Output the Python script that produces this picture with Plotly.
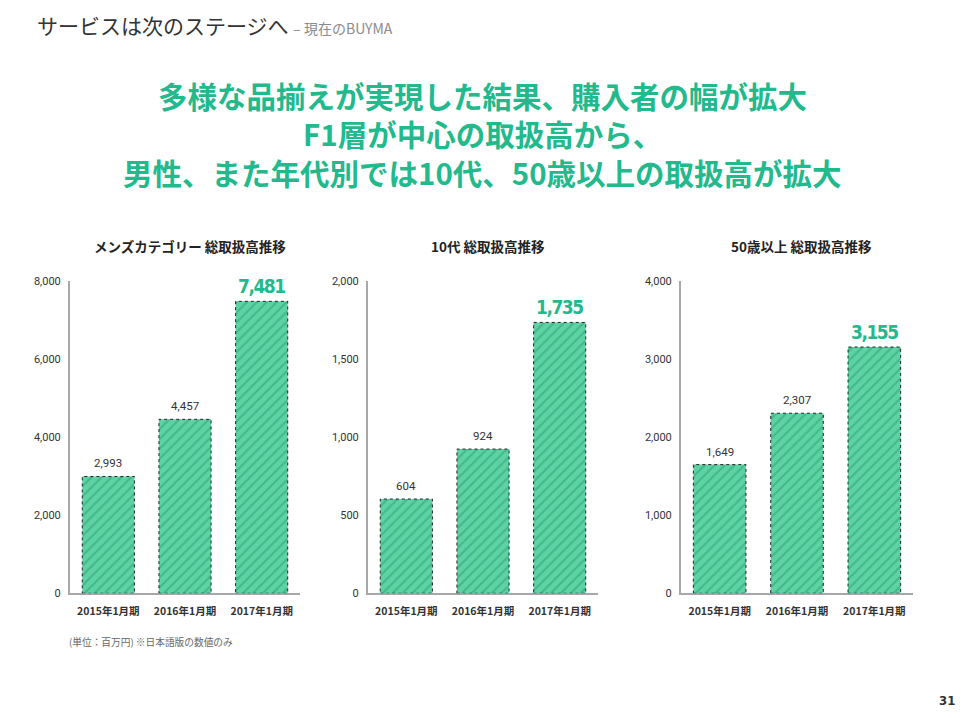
import plotly.graph_objects as go

categories = ["2015年1月期", "2016年1月期", "2017年1月期"]
mens_values = [2993, 4457, 7481]
teens_values = [604, 924, 1735]
over50_values = [1649, 2307, 3155]

chart_titles = ["メンズカテゴリー 総取扱高推移", "10代 総取扱高推移", "50歳以上 総取扱高推移"]
y_ranges = [8000, 2000, 4000]
y_dtick = [2000, 500, 1000]

series = [mens_values, teens_values, over50_values]

JP = "Noto Sans CJK JP, Noto Sans, sans-serif"
NARROW = "DejaVu Sans Condensed, Liberation Sans Narrow, Roboto Condensed, Roboto, sans-serif"
GREEN_TXT = "#22b98c"
BAR_FILL = "#5dd3a4"
BAR_STRIPE = "#2d9c72"

W, H = 964, 718
OFF = 8  # page body margin


def px(p):
    return (p - OFF) / W


def py(p):
    return 1 - (p - OFF) / H


x_domains = [[px(70), px(300)], [px(368), px(598)], [px(681), px(913)]]
y_domain = [py(598), py(280)]

fig = go.Figure()
annotations = []
shapes = []
bar_half = 0.34

for i, vals in enumerate(series):
    xa = "x" if i == 0 else f"x{i+1}"
    ya = "y" if i == 0 else f"y{i+1}"
    fig.add_trace(go.Bar(
        x=categories, y=vals, xaxis=xa, yaxis=ya,
        marker=dict(color=BAR_FILL, line=dict(width=0),
                    pattern=dict(shape="/", fgcolor=BAR_STRIPE, bgcolor=BAR_FILL,
                                 size=7, solidity=0.3)),
        width=0.68, showlegend=False, hoverinfo="skip",
    ))
    for j, v in enumerate(vals):
        last = j == len(vals) - 1
        label = f"{v:,}"
        if last:
            label = f"<span style='letter-spacing:-1.5px'>{label}</span>"
        annotations.append(dict(
            x=categories[j], y=v, xref=xa, yref=ya, text=label,
            showarrow=False, xanchor="center", yanchor="bottom", yshift=2 if last else 4,
            font=dict(family=NARROW if last else "Roboto, sans-serif",
                      size=19 if last else 11.5,
                      color=GREEN_TXT if last else "#333333",
                      weight="bold" if last else "normal"),
        ))
        shapes.append(dict(type="rect", xref=xa, yref=ya,
                           x0=j - bar_half, x1=j + bar_half, y0=0, y1=v,
                           line=dict(color="#222222", width=1, dash="dot"),
                           fillcolor="rgba(0,0,0,0)", layer="above"))
    annotations.append(dict(
        x=sum(x_domains[i]) / 2 + 0.005, y=py(244), xref="paper", yref="paper",
        xanchor="center", yanchor="middle",
        text=f"<b>{chart_titles[i]}</b>", showarrow=False,
        font=dict(family=JP, size=13.5, color="#222222"),
    ))

axis_common = dict(showgrid=False, zeroline=False, showline=True,
                   linecolor="#a8a8a8", linewidth=2, ticks="")

layout = dict(
    width=W, height=H, margin=dict(l=0, r=0, t=0, b=0),
    paper_bgcolor="white", plot_bgcolor="rgba(0,0,0,0)",
    bargap=0.32,
)
for i in range(3):
    sx = "" if i == 0 else str(i + 1)
    layout[f"xaxis{sx}"] = dict(
        domain=x_domains[i], anchor=f"y{sx}", type="category",
        range=[-0.5, 2.5],
        tickfont=dict(family=JP, size=10.5, color="#333333", weight="bold"),
        ticklabelstandoff=7,
        **axis_common)
    layout[f"yaxis{sx}"] = dict(
        domain=y_domain, anchor=f"x{sx}", range=[0, y_ranges[i]],
        dtick=y_dtick[i], tickformat=",d",
        tickfont=dict(family="Roboto, sans-serif", size=11, color="#333333"),
        ticklabelposition="outside", ticklabelstandoff=5,
        **axis_common)

HEAD = 29.5
annotations += [
    dict(x=px(35), y=py(19), xref="paper", yref="paper", xanchor="left", yanchor="middle",
         text="サービスは次のステージへ <span style='font-size:14px;color:#8a8a8a'>– 現在のBUYMA</span>",
         showarrow=False, font=dict(family=JP, size=21, color="#333333")),
    dict(x=px(482), y=py(91), xref="paper", yref="paper", xanchor="center", yanchor="middle",
         text="<b>多様な品揃えが実現した結果、購入者の幅が拡大</b>",
         showarrow=False, font=dict(family=JP, size=HEAD, color=GREEN_TXT)),
    dict(x=px(482), y=py(129), xref="paper", yref="paper", xanchor="center", yanchor="middle",
         text="<b>F1層が中心の取扱高から、</b>",
         showarrow=False, font=dict(family=JP, size=HEAD, color=GREEN_TXT)),
    dict(x=px(482), y=py(169), xref="paper", yref="paper", xanchor="center", yanchor="middle",
         text="<b>男性、また年代別では10代、50歳以上の取扱高が拡大</b>",
         showarrow=False, font=dict(family=JP, size=HEAD, color=GREEN_TXT)),
    dict(x=px(67), y=py(648), xref="paper", yref="paper", xanchor="left", yanchor="middle",
         text="(単位：百万円) ※日本語版の数値のみ",
         showarrow=False, font=dict(family=JP, size=9.7, color="#666666")),
    dict(x=px(957), y=py(707), xref="paper", yref="paper", xanchor="right", yanchor="middle",
         text="<b>31</b>",
         showarrow=False, font=dict(family=NARROW, size=13, color="#333333")),
]

layout["annotations"] = annotations
layout["shapes"] = shapes
fig.update_layout(**layout)
fig.write_html("out.html")
